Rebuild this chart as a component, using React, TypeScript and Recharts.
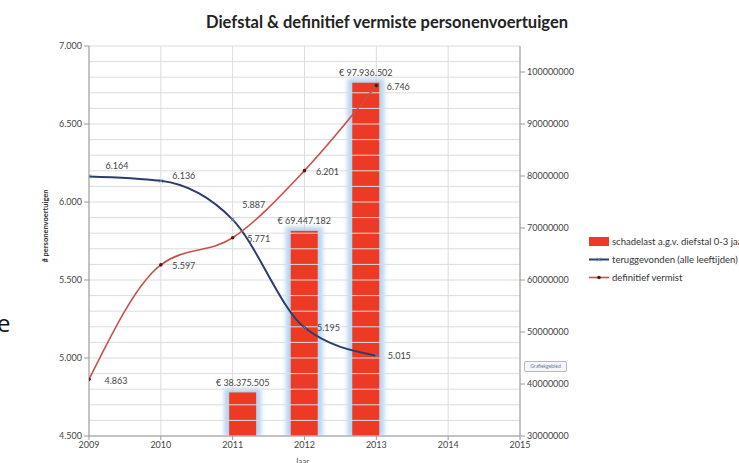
import React from 'react';
import { ComposedChart, Bar, Line, XAxis, YAxis, CartesianGrid, LabelList, ReferenceLine } from 'recharts';

const years = [2009, 2010, 2011, 2012, 2013, 2014, 2015];
const teruggevonden = [6164, 6136, 5887, 5195, 5015, null, null];
const definitiefVermist = [4863, 5597, 5771, 6201, 6746, null, null];
const schadelast = [null, null, 38375505, 69447182, 97936502, null, null];

const leftTicks = [4500, 5000, 5500, 6000, 6500, 7000];
const gridTicks = Array.from({ length: 26 }, (_, i) => 4500 + i * 100);
const rightTicks = [30000000, 40000000, 50000000, 60000000, 70000000, 80000000, 90000000, 100000000];

const blueLabelOffsets = [[28, -11], [23, -5], [21, -15], [24, 0], [23, 0]];
const redLabelOffsets = [[27, 1], [23, 1], [26, 1], [23, 1], [22, 1]];

const data = years.map((year, i) => ({
  year,
  teruggevonden: teruggevonden[i],
  vermist: definitiefVermist[i],
  schadelast: schadelast[i],
}));

const fmt = (n: number) => String(Math.round(n)).replace(/\B(?=(\d{3})+(?!\d))/g, '.');

const FONT = 'Lato, "Liberation Sans", sans-serif';
const BLUE = '#2c3d6b';
const RED = '#c9504a';
const BAR = '#ec3a24';

const GlowBar = (props: any) => {
  const { x, y, width, height } = props;
  if (!height || height <= 0) return null;
  return (
    <g>
      <defs>
        <filter id="glowblur" x="-50%" y="-20%" width="200%" height="140%">
          <feGaussianBlur stdDeviation="2" />
        </filter>
      </defs>
      <rect x={x - 5} y={y - 4} width={width + 10} height={height + 4} fill="#a9cdef" opacity={0.85} filter="url(#glowblur)" />
      <rect x={x} y={y} width={width} height={height} fill={BAR} />
    </g>
  );
};

const BarLabel = (props: any) => {
  const { x, y, width, value } = props;
  if (value == null) return null;
  return (
    <text x={x + width / 2} y={y - 10} textAnchor="middle" dominantBaseline="central" fontSize={9} fill="#444" fontFamily={FONT}>
      {'€ ' + fmt(value)}
    </text>
  );
};

const makeLabel = (offsets: number[][]) => (props: any) => {
  const { x, y, value, index } = props;
  if (value == null) return null;
  const o = offsets[index] || [22, 0];
  return (
    <text x={x + o[0]} y={y + o[1]} textAnchor="middle" dominantBaseline="central" fontSize={9} fill="#444" fontFamily={FONT}>
      {fmt(value)}
    </text>
  );
};

const CrossDot = (props: any) => {
  const { cx, cy, value } = props;
  if (value == null || cx == null) return null;
  return (
    <g stroke="#6d7fb8" strokeWidth={0.8}>
      <line x1={cx - 2} y1={cy - 2} x2={cx + 2} y2={cy + 2} />
      <line x1={cx - 2} y1={cy + 2} x2={cx + 2} y2={cy - 2} />
    </g>
  );
};

const RedDot = (props: any) => {
  const { cx, cy, value } = props;
  if (value == null || cx == null) return null;
  return <circle cx={cx} cy={cy} r={1.8} fill="#5a1414" />;
};

const tickStyle = { fontSize: 9, fill: '#444', fontFamily: FONT };

export default function App() {
  return (
    <div style={{ position: 'absolute', left: 0, top: 0, width: 739, height: 463, background: '#fff', overflow: 'hidden' }}>
      <ComposedChart
        width={739}
        height={463}
        data={data}
        margin={{ top: 46, right: 149, bottom: 7, left: 39 }}
      >
        <CartesianGrid xAxisId="num" yAxisId="left" horizontal={false} stroke="#dcdcdc" strokeWidth={1} />
        {gridTicks.map((t) => (
          <ReferenceLine key={t} xAxisId="num" yAxisId="left" y={t} stroke="#dcdcdc" strokeWidth={1} />
        ))}
        <XAxis
          xAxisId="num"
          dataKey="year"
          type="number"
          domain={[2009, 2015]}
          ticks={years}
          allowDataOverflow
          tick={tickStyle}
          tickSize={4}
          stroke="#9a9a9a"
          height={20}
        />
        <XAxis xAxisId="cat" dataKey="year" type="category" hide height={0} />
        <YAxis
          yAxisId="left"
          domain={[4500, 7000]}
          ticks={leftTicks}
          tickFormatter={fmt}
          tick={tickStyle}
          tickSize={5}
          stroke="#9a9a9a"
          width={50}
          allowDataOverflow
        />
        <YAxis
          yAxisId="right"
          orientation="right"
          domain={[30000000, 105000000]}
          ticks={rightTicks}
          tick={tickStyle}
          tickSize={5}
          stroke="#9a9a9a"
          width={70}
          allowDataOverflow
        />
        <Bar
          xAxisId="cat"
          yAxisId="right"
          dataKey="schadelast"
          barSize={27}
          shape={<GlowBar />}
          isAnimationActive={false}
        >
          <LabelList dataKey="schadelast" content={<BarLabel />} />
        </Bar>
        <Line
          xAxisId="num"
          yAxisId="left"
          type="monotone"
          dataKey="teruggevonden"
          stroke={BLUE}
          strokeWidth={2}
          dot={<CrossDot />}
          activeDot={false}
          isAnimationActive={false}
        >
          <LabelList dataKey="teruggevonden" content={makeLabel(blueLabelOffsets)} />
        </Line>
        <Line
          xAxisId="num"
          yAxisId="left"
          type="monotone"
          dataKey="vermist"
          stroke={RED}
          strokeWidth={1.6}
          dot={<RedDot />}
          activeDot={false}
          isAnimationActive={false}
        >
          <LabelList dataKey="vermist" content={makeLabel(redLabelOffsets)} />
        </Line>
      </ComposedChart>

      <div style={{ position: 'absolute', left: 0, top: 12, width: 774, textAlign: 'center', fontFamily: FONT, fontWeight: 700, fontSize: 16.5, color: '#222' }}>
        Diefstal &amp; definitief vermiste personenvoertuigen
      </div>

      <div style={{ position: 'absolute', left: 45, top: 226, transform: 'translate(-50%, -50%) rotate(-90deg)', whiteSpace: 'nowrap', fontFamily: FONT, fontWeight: 700, fontSize: 7.5, color: '#333' }}>
        # personenvoertuigen
      </div>

      <div style={{ position: 'absolute', left: -3, top: 311, fontFamily: '"Open Sans", sans-serif', fontSize: 24, color: '#111', lineHeight: '24px' }}>e</div>

      <div style={{ position: 'absolute', left: 295, top: 456, fontFamily: FONT, fontSize: 8, color: '#555' }}>Jaar</div>

      <div style={{ position: 'absolute', left: 524, top: 361, width: 41, height: 9, border: '1px solid #b9b9b9', borderRadius: 2, background: '#f4f6fa', fontFamily: FONT, fontSize: 5, color: '#6b7a99', lineHeight: '9px', textAlign: 'center' }}>
        Grafiekgebied
      </div>

      <div style={{ position: 'absolute', left: 589, top: 233, fontFamily: FONT, fontSize: 9.5, color: '#333', whiteSpace: 'nowrap' }}>
        <div style={{ display: 'flex', alignItems: 'center', height: 17 }}>
          <span style={{ display: 'inline-block', width: 20, height: 9, background: BAR, marginRight: 3 }} />
          schadelast a.g.v. diefstal 0-3 jaar
        </div>
        <div style={{ display: 'flex', alignItems: 'center', height: 19 }}>
          <svg width={20} height={9} style={{ marginRight: 3 }}>
            <line x1={0} y1={4.5} x2={20} y2={4.5} stroke={BLUE} strokeWidth={2} />
            <line x1={8} y1={2.5} x2={12} y2={6.5} stroke="#6d7fb8" strokeWidth={0.8} />
            <line x1={8} y1={6.5} x2={12} y2={2.5} stroke="#6d7fb8" strokeWidth={0.8} />
          </svg>
          teruggevonden (alle leeftijden)
        </div>
        <div style={{ display: 'flex', alignItems: 'center', height: 17 }}>
          <svg width={20} height={9} style={{ marginRight: 3 }}>
            <line x1={0} y1={4.5} x2={20} y2={4.5} stroke={RED} strokeWidth={1.6} />
            <circle cx={10} cy={4.5} r={1.8} fill="#5a1414" />
          </svg>
          definitief vermist
        </div>
      </div>
    </div>
  );
}
